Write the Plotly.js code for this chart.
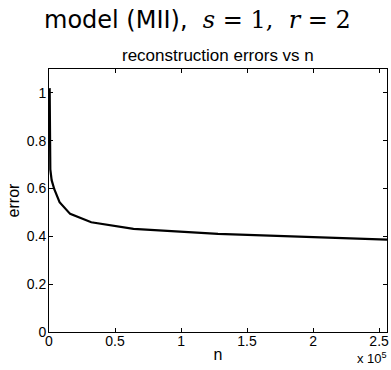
<!DOCTYPE html>
<html>
<head>
<meta charset="utf-8">
<script src="https://cdn.plot.ly/plotly-3.0.1.min.js"></script>
<style>html,body{margin:0;padding:0;background:#fff;}#chart{width:391px;height:370px;}</style>
</head>
<body>
<div id="chart"></div>
<script>
const nValues = [500, 1000, 2000, 4000, 8000, 16000, 32000, 64000, 128000, 256000];
const errorValues = [1.02, 0.68, 0.635, 0.597, 0.543, 0.494, 0.459, 0.431, 0.41, 0.386];
const xTickVals = [0, 50000, 100000, 150000, 200000, 250000];
const xTickText = ['0', '0.5', '1', '1.5', '2', '2.5'];
const yTickVals = [0, 0.2, 0.4, 0.6, 0.8, 1];
const yTickText = ['0', '0.2', '0.4', '0.6', '0.8', '1'];

const sans = 'Liberation Sans, Arial, sans-serif';
const trace = {
  x: nValues, y: errorValues, type: 'scatter', mode: 'lines',
  line: {color: '#000', width: 2.2}, hoverinfo: 'skip'
};
const axisCommon = {
  showgrid: false, zeroline: false, showline: true, mirror: 'ticks',
  linecolor: '#000', linewidth: 1, ticks: 'inside', ticklen: 4, tickcolor: '#000',
  tickfont: {family: sans, size: 14, color: '#000'}
};
const layout = {
  width: 391, height: 370,
  margin: {l: 49, r: 4, t: 69, b: 38},
  paper_bgcolor: '#fff', plot_bgcolor: '#fff',
  showlegend: false,
  xaxis: Object.assign({}, axisCommon, {
    range: [0, 256000], tickvals: xTickVals, ticktext: xTickText, ticklabelstandoff: -4,
    title: {text: 'n', font: {family: sans, size: 16, color: '#000'}, standoff: 1}
  }),
  yaxis: Object.assign({}, axisCommon, {
    range: [0, 1.1], tickvals: yTickVals, ticktext: yTickText, ticklabelstandoff: -1,
    title: {text: 'error', font: {family: sans, size: 16, color: '#000'}, standoff: 3}
  }),
  annotations: [
    {text: 'model (MII),&nbsp;&nbsp;<span style="font-family:DejaVu Serif, serif"><i>s</i>&nbsp;=&nbsp;1,&nbsp;&nbsp;<i>r</i>&nbsp;=&nbsp;2</span>',
     xref: 'paper', yref: 'paper', x: 0.44, y: 1, xanchor: 'center', yanchor: 'bottom', yshift: 33,
     showarrow: false, font: {family: 'DejaVu Sans, sans-serif', size: 24, color: '#000'}},
    {text: 'reconstruction errors vs n', xref: 'paper', yref: 'paper', x: 0.5, y: 1,
     xanchor: 'center', yanchor: 'bottom', yshift: 2, showarrow: false,
     font: {family: sans, size: 17, color: '#000'}},
    {text: 'x 10<sup>5</sup>', xref: 'paper', yref: 'paper', x: 1, y: 0, xanchor: 'right', yanchor: 'top',
     yshift: -16, xshift: 2, showarrow: false, font: {family: sans, size: 13, color: '#000'}}
  ]
};
Plotly.newPlot('chart', [trace], layout, {displayModeBar: false, staticPlot: true});
</script>
</body>
</html>
